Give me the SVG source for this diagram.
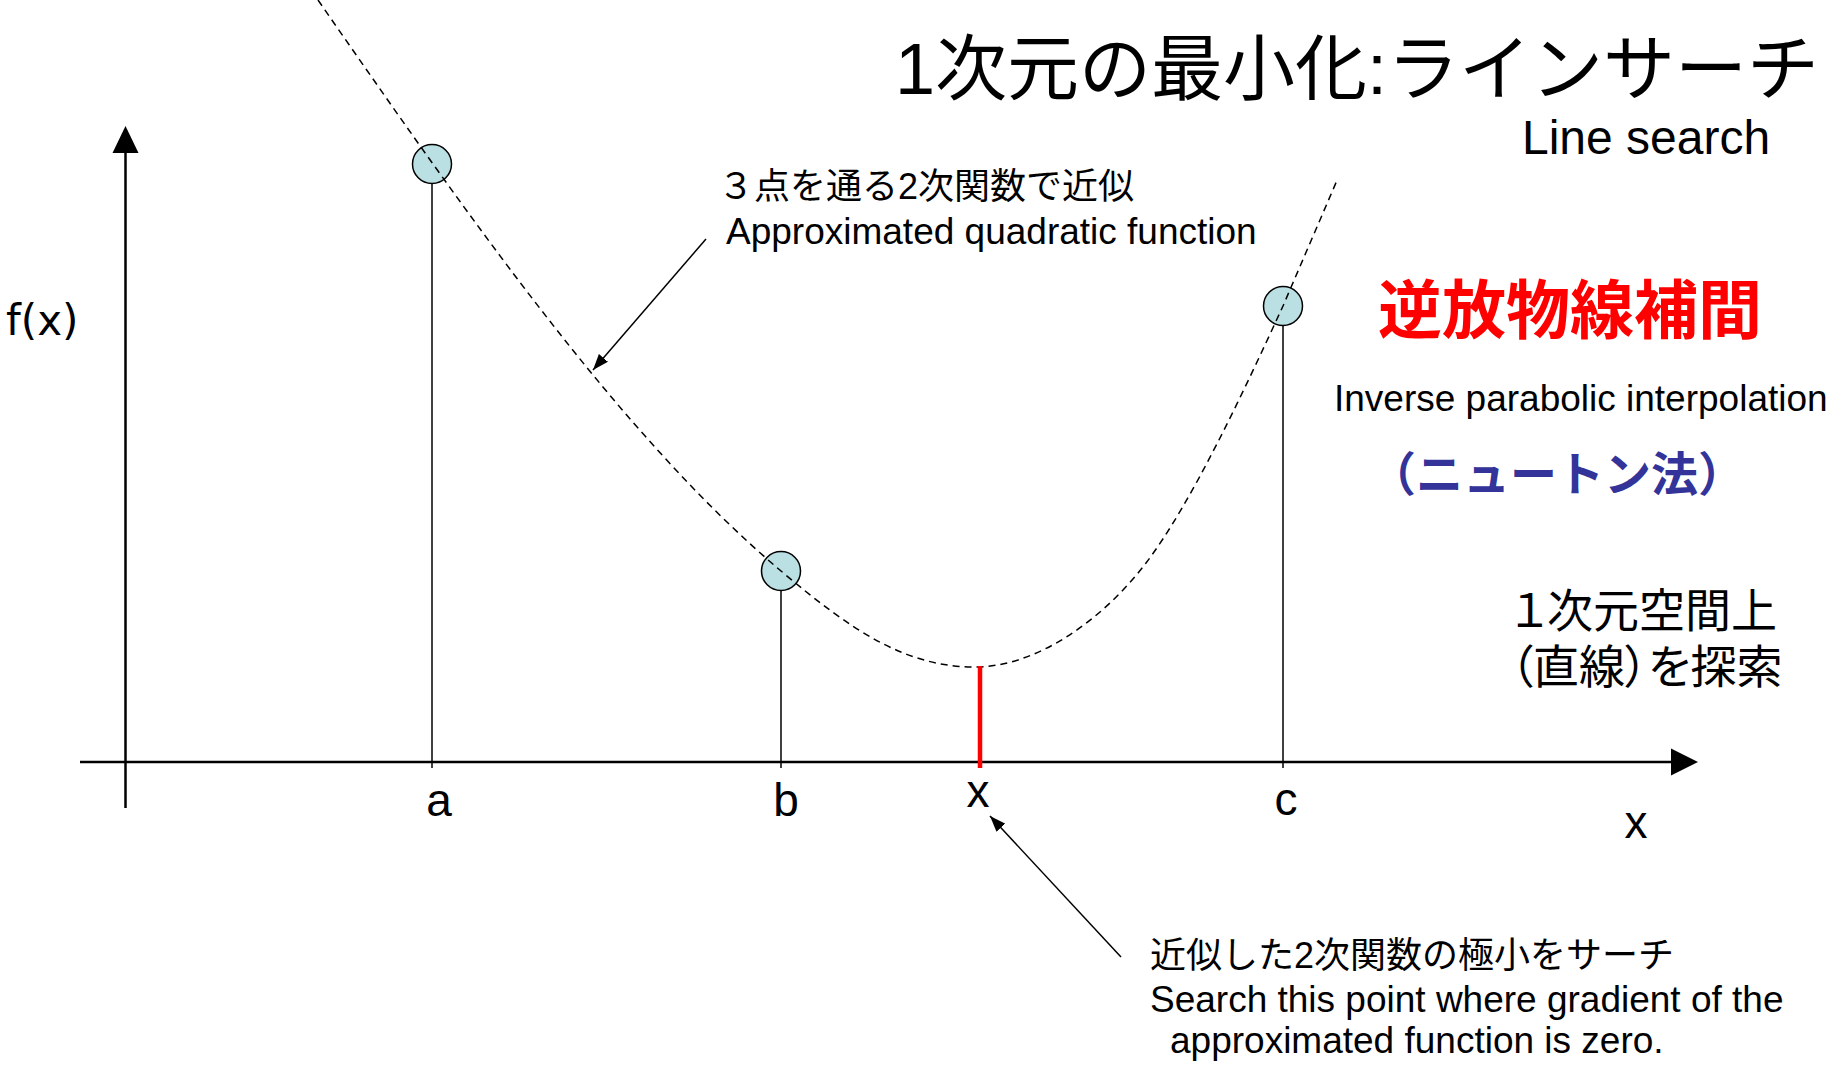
<svg xmlns="http://www.w3.org/2000/svg" width="1832" height="1065" viewBox="0 0 1832 1065">
<style>
.axis{stroke:#000;stroke-width:2.5;fill:none}
.stem{stroke:#000;stroke-width:1.5;fill:none}
.pt{fill:#BBE0E3;stroke:#000;stroke-width:1.5}
.curve{stroke:#000;stroke-width:1.5;fill:none;stroke-dasharray:7 5}
.conn{stroke:#000;stroke-width:1.5;fill:none}
.en{font-family:"Liberation Sans",Arial,sans-serif;fill:#000}
.jp{font-family:"Liberation Sans","Noto Sans CJK JP",sans-serif;fill:#000}
.lbl{font-family:"Liberation Sans",Arial,sans-serif;font-size:46px;fill:#000;text-anchor:middle}
</style>
<defs>
<marker id="ah" viewBox="0 0 16 12" refX="16" refY="6" markerWidth="16" markerHeight="12" markerUnits="userSpaceOnUse" orient="auto">
<path d="M0,0 L16,6 L0,12 z" fill="#000"/>
</marker>
</defs>
<rect width="1832" height="1065" fill="#fff"/>
<g id="axes">
<line class="axis" x1="125.5" y1="808" x2="125.5" y2="148"/>
<polygon points="125.5,126 112.5,153 138.5,153" fill="#000"/>
<line class="axis" x1="80" y1="762" x2="1676" y2="762"/>
<polygon points="1698,762 1671,748.5 1671,775.5" fill="#000"/>
<text class="en" x="6" y="335" style="font-family:'DejaVu Sans',sans-serif;font-size:42px">f(x)</text>
<text class="lbl" x="1636" y="838">x</text>
</g>
<g id="point-a">
<line class="stem" x1="432" y1="183" x2="432" y2="768"/>
<circle class="pt" cx="432" cy="164" r="19.5"/>
<text class="lbl" x="439" y="816">a</text>
</g>
<g id="point-b">
<line class="stem" x1="781" y1="590" x2="781" y2="768"/>
<circle class="pt" cx="781" cy="571" r="19.5"/>
<text class="lbl" x="786" y="816">b</text>
</g>
<g id="point-c">
<line class="stem" x1="1283" y1="325" x2="1283" y2="768"/>
<circle class="pt" cx="1283" cy="306" r="19.5"/>
<text class="lbl" x="1286" y="815">c</text>
</g>
<g id="curve">
<path class="curve" d="M318,0 C468,216 621,436 781,571 C851,630 905,667 975,667 C1035,667 1101,622 1146,563 C1191,504 1243,393 1283,306 L1338,178"/>
</g>
<g id="minimum">
<line x1="980" y1="666" x2="980" y2="768" stroke="#FF0000" stroke-width="4.5"/>
<text class="lbl" x="978" y="807">x</text>
</g>
<g id="connectors">
<line class="conn" x1="706" y1="239" x2="593" y2="370" marker-end="url(#ah)"/>
<line class="conn" x1="1121" y1="957" x2="990" y2="816" marker-end="url(#ah)"/>
</g>
<g id="title">
<text class="jp" x="895" y="94" style="font-size:72px">1次元の最小化:ラインサーチ</text>
<text class="en" x="1522" y="154" style="font-size:48px">Line search</text>
</g>
<g id="note-quadratic">
<text class="jp" x="718" y="199" style="font-size:36px">３点を通る2次関数で近似</text>
<text class="en" x="726" y="244" style="font-size:37px">Approximated quadratic function</text>
</g>
<g id="note-method">
<text class="jp" x="1378" y="333" style="font-size:64px;font-weight:bold;fill:#FF0000">逆放物線補間</text>
<text class="en" x="1334" y="411" style="font-size:37px">Inverse parabolic interpolation</text>
<text class="jp" x="1557" y="491" style="font-size:47px;font-weight:bold;fill:#333399;text-anchor:middle">（ニュートン法）</text>
</g>
<g id="note-space">
<text class="jp" x="1512" y="627" style="font-size:46px;font-feature-settings:'palt'">１次元空間上</text>
<text class="jp" x="1510" y="683" style="font-size:46px;font-feature-settings:'palt'">（直線）を探索</text>
</g>
<g id="note-search">
<text class="jp" x="1150" y="968" style="font-size:36px">近似した2次関数の極小をサーチ</text>
<text class="en" x="1150" y="1012" style="font-size:37px">Search this point where gradient of the</text>
<text class="en" x="1170" y="1053" style="font-size:37px">approximated function is zero.</text>
</g>
</svg>
